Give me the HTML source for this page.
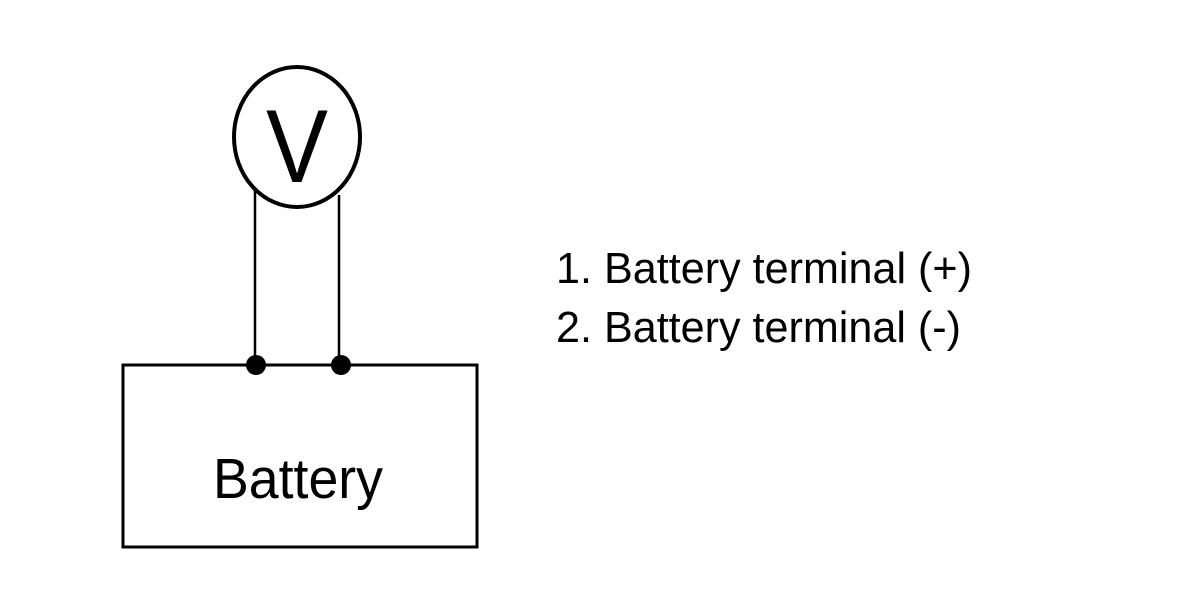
<!DOCTYPE html>
<html><head><meta charset="utf-8"><style>html,body{margin:0;padding:0;background:#fff}svg{display:block}</style></head>
<body>
<svg width="1200" height="598" viewBox="0 0 1200 598" xmlns="http://www.w3.org/2000/svg" font-family="Liberation Sans, Arial, sans-serif">
<rect width="1200" height="598" fill="#fff"/>
<ellipse cx="297" cy="137" rx="63" ry="70" fill="none" stroke="#000" stroke-width="4"/>
<text x="297" y="182" font-size="104" text-anchor="middle" textLength="62" lengthAdjust="spacingAndGlyphs">V</text>
<line x1="255" y1="190" x2="255" y2="365" stroke="#000" stroke-width="2.5"/>
<line x1="339" y1="195" x2="339" y2="365" stroke="#000" stroke-width="2.5"/>
<rect x="123" y="365" width="354" height="182" fill="none" stroke="#000" stroke-width="3"/>
<circle cx="256" cy="365" r="10" fill="#000"/>
<circle cx="341" cy="365" r="10" fill="#000"/>
<text x="213" y="498" font-size="57" textLength="170" lengthAdjust="spacingAndGlyphs">Battery</text>
<text x="556" y="283" font-size="44" textLength="416" lengthAdjust="spacingAndGlyphs">1. Battery terminal (+)</text>
<text x="556" y="342" font-size="44" textLength="405" lengthAdjust="spacingAndGlyphs">2. Battery terminal (-)</text>
</svg>
</body></html>
